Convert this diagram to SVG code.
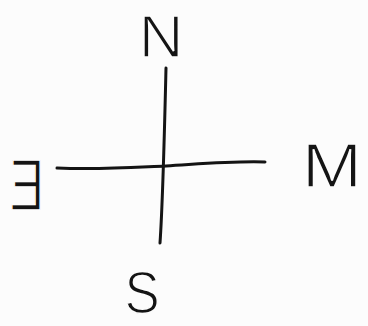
<svg xmlns="http://www.w3.org/2000/svg" width="368" height="326" viewBox="0 0 368 326">
<style>
.lbl{font-family:"Liberation Sans",Arial,sans-serif;fill:#141414;stroke:#fcfcfc;stroke-width:1.6;text-anchor:middle}
.ln{fill:none;stroke:#141414;stroke-width:3;stroke-linecap:round;stroke-linejoin:round}
</style>
<rect width="368" height="326" fill="#fcfcfc"/>
<g id="connectors">
<path class="ln" d="M166,68 C165,110 163,200 160,243"/>
<path class="ln" d="M57,168 C100,170 140,167 166,166 C200,164 230,161 265,162"/>
</g>
<g id="north"><text class="lbl" transform="translate(161,57) scale(1.05,1)" font-size="59">N</text></g>
<g id="east"><text class="lbl" transform="translate(27,210) scale(-0.72,1)" font-size="72">E</text></g>
<g id="west"><text class="lbl" transform="translate(332,187) scale(1.15,1)" font-size="63">M</text></g>
<g id="south"><text class="lbl" transform="translate(142,313) scale(0.88,1)" font-size="60">S</text></g>
</svg>
